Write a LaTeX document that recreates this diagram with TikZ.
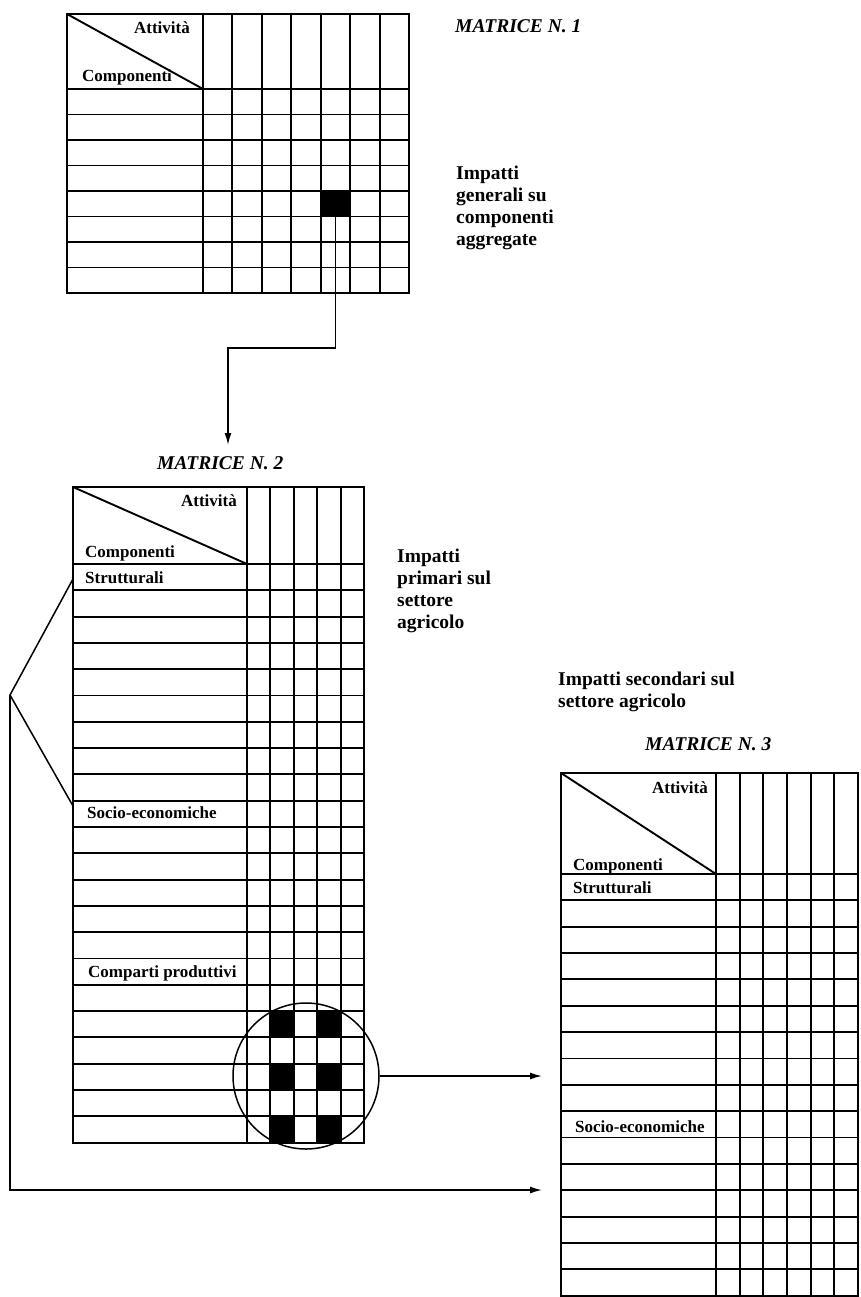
\documentclass[tikz,border=0pt]{standalone}
\usepackage{fontspec}
\setmainfont{Liberation Serif}
\usetikzlibrary{arrows.meta}
\tikzset{
  griglia/.style={line width=1.9pt},
  linea/.style={line width=1.5pt},
  freccia/.style={line width=1.5pt, -{Latex[length=12pt,width=7pt]}},
  pieno/.style={fill=black},
  titolo/.style={font=\fontsize{19.5}{22}\selectfont\bfseries\itshape, inner sep=0pt, anchor=base west},
  voce/.style={font=\fontsize{17}{20}\selectfont\bfseries, inner sep=0pt, anchor=base west},
  nota/.style={font=\fontsize{19.5}{22}\selectfont\bfseries, inner sep=0pt, align=left, anchor=north west}
}
\begin{document}
\begin{tikzpicture}[x=1pt,y=-1pt]
    \useasboundingbox (0,0) rectangle (861,1297);

    % Matrice N. 1
    \fill[pieno]   (320.7,191) rectangle (350.1,216.5);                                      % cella evidenziata
    \draw[griglia] (67,14) rectangle (409,293);                                              % cornice
    \draw[griglia] (67,14) -- (203,89);                                                      % diagonale
    \foreach \i in {0,...,7} \draw[griglia] (67,89+25.5*\i) -- (409,89+25.5*\i);             % righe
    \foreach \j in {0,...,6} \draw[griglia] (203+29.43*\j,14) -- (203+29.43*\j,293);         % colonne
    \node[voce, anchor=base east] (att1) at (190,34) {Attività};
    \node[voce] (comp1) at (82,82) {Componenti};

    % Matrice N. 2
    \foreach \c in {1,3} \foreach \r in {17,19,21}
        \fill[pieno] (247+23.4*\c,564+26.3*\r) rectangle ++(23.4,26.3);                      % celle evidenziate
    \draw[griglia] (73,487) rectangle (364,1142.6);                                          % cornice
    \draw[griglia] (73,487) -- (247,564);                                                    % diagonale
    \foreach \i in {0,...,21} \draw[griglia] (73,564+26.3*\i) -- (364,564+26.3*\i);          % righe
    \foreach \j in {0,...,4} \draw[griglia] (247+23.4*\j,487) -- (247+23.4*\j,1142.6);       % colonne
    \node[voce, anchor=base east] (att2) at (237,506) {Attività};
    \node[voce] (comp2)   at (85,557) {Componenti};
    \node[voce] (strutt2) at (85,583) {Strutturali};
    \node[voce] (socio2)  at (87,818) {Socio-economiche};
    \node[voce] (compar2) at (88,977) {Comparti produttivi};
    \node[draw, circle, linea, minimum size=146pt, inner sep=0pt] (lente) at (306,1076) {}; % cerchio

    % Matrice N. 3
    \draw[griglia] (561,773) rectangle (858,1295.6);                                         % cornice
    \draw[griglia] (561,773) -- (716,874);                                                   % diagonale
    \foreach \i in {0,...,15} \draw[griglia] (561,874+26.35*\i) -- (858,874+26.35*\i);       % righe
    \foreach \j in {0,...,5} \draw[griglia] (716+23.67*\j,773) -- (716+23.67*\j,1295.6);     % colonne
    \node[voce, anchor=base east] (att3) at (708,793) {Attività};
    \node[voce] (comp3)   at (573,870) {Componenti};
    \node[voce] (strutt3) at (573,893) {Strutturali};
    \node[voce] (socio3)  at (575,1132) {Socio-economiche};

    % Titoli e note
    \node[titolo] (tit1) at (455,33)  {MATRICE N. 1};
    \node[titolo] (tit2) at (157,469) {MATRICE N. 2};
    \node[titolo] (tit3) at (645,750) {MATRICE N. 3};
    \node[nota] (nota1) at (456,166) {Impatti\\generali su\\componenti\\aggregate};
    \node[nota] (nota2) at (397,549) {Impatti\\primari sul\\settore\\agricolo};
    \node[nota] (nota3) at (558,672) {Impatti secondari sul\\settore agricolo};

    % Collegamenti
    \coordinate (cella)  at (335.4,203.7);
    \coordinate (gomito) at (228,348);
    \coordinate (punta2) at (228,445);
    \draw[freccia] (cella) |- (gomito) -- (punta2);                                           % da matrice 1 a matrice 2
    \coordinate (vertice) at (10,695);
    \coordinate (attacco1) at (73,579);
    \coordinate (attacco2) at (73,806);
    \draw[linea] (attacco1) -- (vertice) -- (attacco2);                                       % parentesi
    \coordinate (punta1) at (542,1076);
    \coordinate (punta3) at (542,1190);
    \draw[freccia] (lente) -- (punta1);                                                       % dal cerchio
    \draw[freccia] (vertice) |- (punta3);                                                     % dalla parentesi
\end{tikzpicture}
\end{document}
